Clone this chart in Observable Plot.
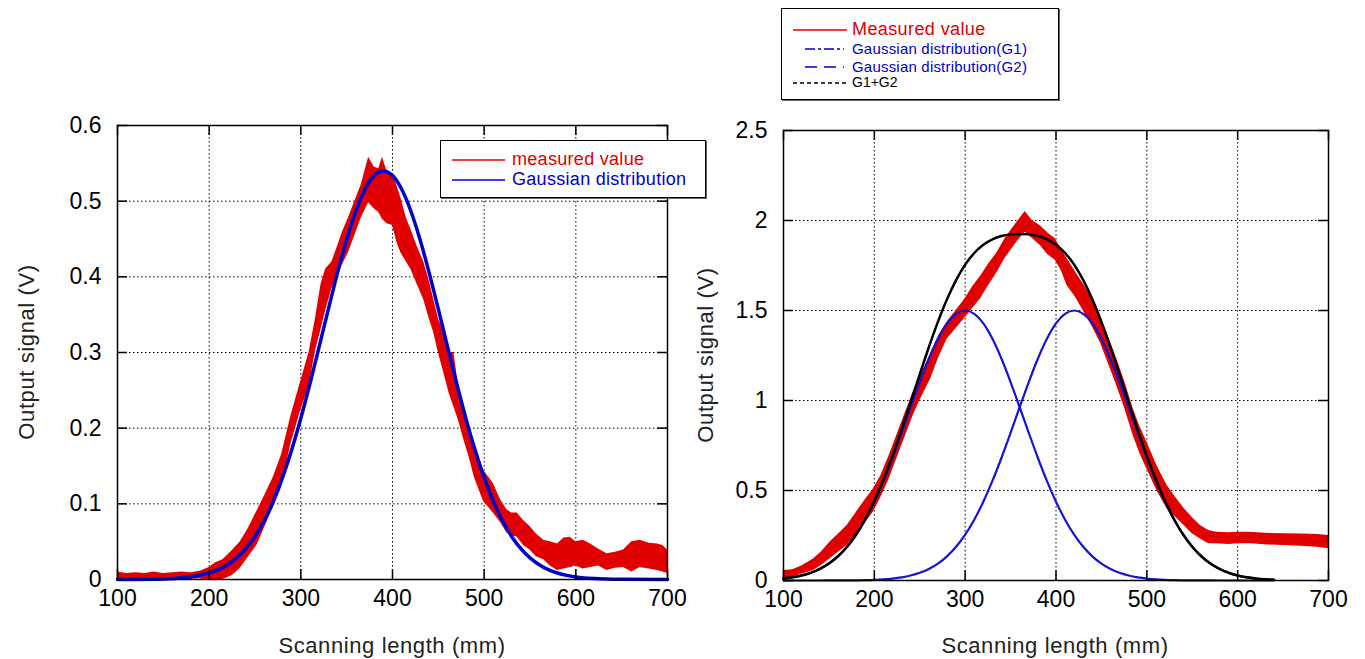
<!DOCTYPE html>
<html><head><meta charset="utf-8">
<script src="https://cdn.jsdelivr.net/npm/d3@7"></script>
<script src="https://cdn.jsdelivr.net/npm/@observablehq/plot@0.6"></script>
<style>
body{margin:0;background:#fff;font-family:"Liberation Sans",Arial,sans-serif;}
#wrap{position:relative;width:1365px;height:659px;overflow:hidden;background:#fff;}
#wrap svg{position:absolute;top:0;}
.xtitle{position:absolute;font-size:22px;color:#222;transform:translateX(-50%);white-space:nowrap;letter-spacing:0.6px;line-height:22px;}
.ytitle{position:absolute;font-size:22px;color:#222;transform:translate(-50%,-50%) rotate(-90deg);white-space:nowrap;letter-spacing:0.6px;line-height:22px;}
.legend{position:absolute;background:#fff;border:1.5px solid #000;box-shadow:1px 1px 0 #666;box-sizing:border-box;}
.legend .t{position:absolute;white-space:nowrap;}
.legend svg{position:absolute;left:0;top:0;}
</style></head><body><div id="wrap"></div>
<script>
// ---------- shared axis ticks ----------
const xTicks = [100, 200, 300, 400, 500, 600, 700];
const yTicksLeft = [0, 0.1, 0.2, 0.3, 0.4, 0.5, 0.6];
const yTicksRight = [0, 0.5, 1, 1.5, 2, 2.5];

// ---------- left panel: measured value (noisy band: lower / upper envelope) ----------
const leftMeasX  = [100,110,120,130,140,150,160,170,180,190,200,207,215,225,234,243,252,261,270,279,289,299,309,316,322,327,334,340,345,352,359,366,374,380,385,389,394,400,405,409,415,420,427,434,440,445,450,456,462,467,472,478,484,489,494,499,505,510,518,525,530,536,543,550,557,565,572,580,587,594,600,608,616,625,634,643,652,661,670,680,689,695,700];
const leftMeasLo = [0.000,0.000,0.000,0.001,0.000,0.001,0.000,0.001,0.000,0.001,-0.002,-0.002,0.000,0.005,0.015,0.030,0.045,0.070,0.095,0.122,0.178,0.220,0.255,0.302,0.330,0.355,0.385,0.400,0.415,0.432,0.455,0.478,0.498,0.490,0.485,0.476,0.470,0.468,0.445,0.432,0.420,0.410,0.390,0.370,0.345,0.326,0.300,0.273,0.245,0.228,0.210,0.184,0.160,0.136,0.120,0.104,0.095,0.088,0.075,0.061,0.058,0.056,0.045,0.039,0.030,0.026,0.018,0.012,0.014,0.016,0.018,0.014,0.016,0.018,0.012,0.015,0.016,0.010,0.016,0.014,0.012,0.010,0.008];
const leftMeasHi = [0.010,0.008,0.009,0.008,0.010,0.008,0.009,0.010,0.009,0.011,0.016,0.022,0.026,0.038,0.050,0.068,0.090,0.112,0.135,0.165,0.215,0.258,0.300,0.345,0.390,0.410,0.420,0.440,0.458,0.478,0.500,0.522,0.558,0.545,0.543,0.558,0.540,0.535,0.520,0.505,0.478,0.463,0.440,0.420,0.395,0.370,0.345,0.326,0.300,0.300,0.255,0.225,0.195,0.171,0.160,0.145,0.135,0.127,0.105,0.092,0.088,0.088,0.078,0.070,0.060,0.052,0.050,0.047,0.055,0.056,0.050,0.052,0.047,0.040,0.034,0.036,0.039,0.050,0.052,0.048,0.047,0.045,0.039];

// ---------- left panel: Gaussian distribution ----------
const leftGaussX = [100,150,200,210,220,230,240,250,260,270,280,290,300,310,320,330,340,350,360,370,380,390,400,410,420,430,440,450,460,470,480,490,500,510,520,530,540,550,560,570,580,590,600,620,650,700];
const leftGaussY = [0.0000,0.0007,0.0086,0.0131,0.0196,0.0286,0.0408,0.0569,0.0776,0.1034,0.1347,0.1713,0.2131,0.2590,0.3077,0.3572,0.4053,0.4494,0.4870,0.5157,0.5338,0.5400,0.5338,0.5157,0.4870,0.4494,0.4053,0.3572,0.3077,0.2590,0.2131,0.1713,0.1347,0.1034,0.0776,0.0569,0.0408,0.0286,0.0196,0.0131,0.0086,0.0055,0.0034,0.0012,0.0002,0.0000];

// ---------- right panel: measured value (band) ----------
const rightMeasX  = [100,110,120,133,142,151,160,170,179,188,199,207,216,225,234,243,252,262,271,280,290,300,308,317,326,335,344,354,360,366,374,383,391,399,406,412,422,431,440,449,458,467,476,485,492,500,511,522,532,541,550,559,568,577,590,600,614,630,651,670,688,700];
const rightMeasLo = [0.010,0.020,0.035,0.056,0.085,0.120,0.155,0.194,0.250,0.306,0.380,0.460,0.560,0.680,0.800,0.920,1.020,1.120,1.240,1.340,1.400,1.460,1.510,1.565,1.640,1.710,1.790,1.860,1.900,1.935,1.900,1.860,1.810,1.780,1.720,1.640,1.570,1.490,1.410,1.320,1.200,1.080,0.950,0.806,0.710,0.620,0.500,0.400,0.350,0.306,0.260,0.230,0.204,0.204,0.200,0.204,0.204,0.198,0.194,0.190,0.185,0.176];
const rightMeasHi = [0.055,0.060,0.080,0.120,0.160,0.213,0.255,0.306,0.370,0.435,0.510,0.580,0.690,0.810,0.930,1.050,1.150,1.260,1.360,1.435,1.500,1.565,1.630,1.690,1.760,1.820,1.900,1.970,2.010,2.050,2.000,1.970,1.930,1.900,1.840,1.790,1.710,1.640,1.560,1.470,1.350,1.230,1.100,0.954,0.860,0.770,0.640,0.530,0.460,0.400,0.350,0.306,0.278,0.268,0.265,0.268,0.268,0.262,0.260,0.258,0.255,0.250];

// ---------- right panel: G1, G2, G1+G2 ----------
const rightGaussX = [100,110,120,130,140,150,160,170,180,190,200,210,220,230,240,250,260,270,280,290,300,310,320,330,340,350,360,370,380,390,400,410,420,430,440,450,460,470,480,490,500,510,520,530,540,550,560,570,580,590,600,610,620,630,640];
const g1Y = [0.0109,0.0176,0.0277,0.0427,0.0641,0.0939,0.1342,0.1872,0.2546,0.3380,0.4378,0.5532,0.6820,0.8204,0.9628,1.1025,1.2317,1.3426,1.4279,1.4816,1.5000,1.4816,1.4279,1.3426,1.2317,1.1025,0.9628,0.8204,0.6820,0.5532,0.4378,0.3380,0.2546,0.1872,0.1342,0.0939,0.0641,0.0427,0.0277,0.0176,0.0109,0.0066,0.0039,0.0022,0.0012,0.0007,0.0004,0.0002,0.0001,0.0000,0.0000,0.0000,0.0000,0.0000,0.0000];
const g2Y = [0.0000,0.0000,0.0000,0.0000,0.0001,0.0002,0.0004,0.0007,0.0012,0.0022,0.0039,0.0066,0.0109,0.0176,0.0277,0.0427,0.0641,0.0939,0.1342,0.1872,0.2546,0.3380,0.4378,0.5532,0.6820,0.8204,0.9628,1.1025,1.2317,1.3426,1.4279,1.4816,1.5000,1.4816,1.4279,1.3426,1.2317,1.1025,0.9628,0.8204,0.6820,0.5532,0.4378,0.3380,0.2546,0.1872,0.1342,0.0939,0.0641,0.0427,0.0277,0.0176,0.0109,0.0066,0.0039];
const sumY = [0.0109,0.0176,0.0277,0.0427,0.0642,0.0941,0.1346,0.1879,0.2558,0.3402,0.4417,0.5598,0.6929,0.8380,0.9905,1.1452,1.2958,1.4365,1.5621,1.6688,1.7546,1.8196,1.8657,1.8958,1.9137,1.9229,1.9256,1.9229,1.9137,1.8958,1.8657,1.8196,1.7546,1.6688,1.5621,1.4365,1.2958,1.1452,0.9905,0.8380,0.6929,0.5598,0.4417,0.3402,0.2558,0.1879,0.1346,0.0941,0.0642,0.0428,0.0277,0.0176,0.0109,0.0066,0.0039];

// ---------- legend / title texts ----------
const xTitle = "Scanning length (mm)";
const yTitle = "Output signal (V)";
const leftLegend = ["measured value", "Gaussian distribution"];
const rightLegend = ["Measured value", "Gaussian distribution(G1)", "Gaussian distribution(G2)", "G1+G2"];

const RED = "#e00000", BLUE = "#0000cc", BLUE2 = "#1414d2";
const FONT = "'Liberation Sans', Arial, sans-serif";

const leftMeas = leftMeasX.map((x, i) => ({x, lo: leftMeasLo[i], hi: leftMeasHi[i]}));
const leftGauss = leftGaussX.map((x, i) => ({x, y: leftGaussY[i]}));
const rightMeas = rightMeasX.map((x, i) => ({x, lo: rightMeasLo[i], hi: rightMeasHi[i]}));
const g1 = rightGaussX.map((x, i) => ({x, y: g1Y[i]}));
const g2 = rightGaussX.map((x, i) => ({x, y: g2Y[i]}));
const gs = rightGaussX.map((x, i) => ({x, y: sumY[i]}));

function frameMarks(yTicks, pw, ph) {
  const grid = {stroke: "#000", strokeOpacity: 1, strokeWidth: 1, strokeDasharray: "1.5,2.5"};
  return {
    grids: [Plot.gridX(xTicks, grid), Plot.gridY(yTicks, grid)],
    ticks: [
      Plot.tickY(yTicks, {y: d => d, insetRight: pw - 10, stroke: "#000", strokeWidth: 1.5}),
      Plot.tickY(yTicks, {y: d => d, insetLeft: pw - 10, stroke: "#000", strokeWidth: 1.5}),
      Plot.tickX(xTicks, {x: d => d, insetBottom: ph - 10, stroke: "#000", strokeWidth: 1.5}),
      Plot.tickX(xTicks, {x: d => d, insetTop: ph - 10, stroke: "#000", strokeWidth: 1.5}),
      Plot.frame({stroke: "#000", strokeWidth: 1.5}),
      Plot.axisX(xTicks, {tickSize: 0, tickPadding: 10, label: null, fontSize: 23}),
      Plot.axisY(yTicks, {tickSize: 0, tickPadding: 16, label: null, fontSize: 23, tickFormat: d => String(d)})
    ]
  };
}

const wrap = document.getElementById("wrap");

// Left chart: plot area x 117..667, y 125..579
{
  const W = 700, H = 659, mL = 117, mR = 33, mT = 125, mB = 80;
  const f = frameMarks(yTicksLeft, W - mL - mR, H - mT - mB);
  const svg = Plot.plot({
    width: W, height: H, marginLeft: mL, marginRight: mR, marginTop: mT, marginBottom: mB,
    x: {domain: [100, 700]}, y: {domain: [0, 0.6]},
    style: {fontFamily: FONT, fontSize: "23px", color: "#000", background: "transparent"},
    marks: [
      ...f.grids,
      Plot.areaY(leftMeas, {x: "x", y1: "lo", y2: "hi", fill: RED, clip: true}),
      Plot.line(leftGauss, {x: "x", y: "y", stroke: BLUE, strokeWidth: 3.5, curve: "monotone-x"}),
      ...f.ticks
    ]
  });
  svg.style.left = "0px";
  wrap.appendChild(svg);
}

// Right chart: plot area x 783..1328, y 130..580
{
  const W = 683, H = 659, mL = 101, mR = 37, mT = 130, mB = 79;
  const f = frameMarks(yTicksRight, W - mL - mR, H - mT - mB);
  const svg = Plot.plot({
    width: W, height: H, marginLeft: mL, marginRight: mR, marginTop: mT, marginBottom: mB,
    x: {domain: [100, 700]}, y: {domain: [0, 2.5]},
    style: {fontFamily: FONT, fontSize: "23px", color: "#000", background: "transparent"},
    marks: [
      ...f.grids,
      Plot.areaY(rightMeas, {x: "x", y1: "lo", y2: "hi", fill: RED, clip: true}),
      Plot.line(g1, {x: "x", y: "y", stroke: BLUE2, strokeWidth: 2.2, curve: "monotone-x"}),
      Plot.line(g2, {x: "x", y: "y", stroke: BLUE2, strokeWidth: 2.2, curve: "monotone-x"}),
      Plot.line(gs, {x: "x", y: "y", stroke: "#000", strokeWidth: 2.5, curve: "monotone-x"}),
      ...f.ticks
    ]
  });
  svg.style.left = "682px";
  wrap.appendChild(svg);
}

// Axis titles
function addText(cls, text, left, top) {
  const d = document.createElement("div");
  d.className = cls; d.textContent = text;
  d.style.left = left + "px"; d.style.top = top + "px";
  wrap.appendChild(d);
}
addText("xtitle", xTitle, 392, 635);
addText("xtitle", xTitle, 1055, 635);
addText("ytitle", yTitle, 27, 352);
addText("ytitle", yTitle, 706, 355);

// Legends
function legend(left, top, w, h, rows) {
  const box = document.createElement("div");
  box.className = "legend";
  Object.assign(box.style, {left: left + "px", top: top + "px", width: w + "px", height: h + "px"});
  const ns = "http://www.w3.org/2000/svg";
  const s = document.createElementNS(ns, "svg");
  s.setAttribute("width", w); s.setAttribute("height", h);
  rows.forEach(r => {
    const ln = document.createElementNS(ns, "line");
    ln.setAttribute("x1", r.x1); ln.setAttribute("x2", r.x2);
    ln.setAttribute("y1", r.y); ln.setAttribute("y2", r.y);
    ln.setAttribute("stroke", r.color); ln.setAttribute("stroke-width", r.sw || 1.5);
    if (r.dash) ln.setAttribute("stroke-dasharray", r.dash);
    s.appendChild(ln);
    const t = document.createElement("div");
    t.className = "t"; t.textContent = r.text;
    Object.assign(t.style, {left: r.tx + "px", top: (r.y - r.fs / 2 - 1) + "px", fontSize: r.fs + "px", lineHeight: r.fs + "px", color: r.color, letterSpacing: (r.ls || 0) + "px"});
    box.appendChild(t);
  });
  box.appendChild(s);
  wrap.appendChild(box);
}
legend(440, 140, 266, 58, [
  {text: leftLegend[0], color: RED, y: 19, x1: 11, x2: 64, tx: 71, fs: 18, ls: 0.3},
  {text: leftLegend[1], color: BLUE, y: 39, x1: 11, x2: 64, tx: 71, fs: 18, ls: 0.3}
]);
legend(781, 8, 278, 92, [
  {text: rightLegend[0], color: RED, y: 21, x1: 11, x2: 65, tx: 70, fs: 18, ls: 0.4},
  {text: rightLegend[1], color: BLUE, y: 40, x1: 23, x2: 62, tx: 70, fs: 15, dash: "10,3,3,3", ls: 0.2},
  {text: rightLegend[2], color: BLUE, y: 58, x1: 23, x2: 62, tx: 70, fs: 15, dash: "12,7", ls: 0.2},
  {text: rightLegend[3], color: "#000", y: 74, x1: 11, x2: 65, tx: 70, fs: 14, dash: "4,3"}
]);
</script></body></html>
